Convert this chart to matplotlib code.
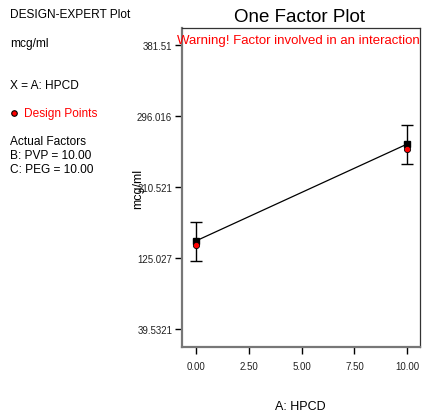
import matplotlib
matplotlib.use("Agg")
import matplotlib.pyplot as plt

plt.rcParams["font.family"] = ["Liberation Sans", "DejaVu Sans"]

# factor levels and response (mcg/ml)
hpcd = [0.0, 10.0]
predicted = [145.4, 262.1]
ci_low = [121.3, 238.0]
ci_high = [168.2, 284.9]
design_points = [140.0, 256.1]

y_ticks = [39.5321, 125.027, 210.521, 296.016, 381.51]
y_tick_labels = ["39.5321", "125.027", "210.521", "296.016", "381.51"]
x_ticks = [0.0, 2.5, 5.0, 7.5, 10.0]
x_tick_labels = ["0.00", "2.50", "5.00", "7.50", "10.00"]

fig = plt.figure(figsize=(4.22, 4.14), dpi=100)
ax = fig.add_axes([182 / 422, 66 / 414, 238 / 422, 319 / 414])

# prediction line with interval bars
ax.plot(hpcd, predicted, color="black", lw=0.9, zorder=2)
ax.errorbar(hpcd, predicted, yerr=[[p - l for p, l in zip(predicted, ci_low)],
                                   [h - p for p, h in zip(predicted, ci_high)]],
            fmt="none", ecolor="black", elinewidth=1.0, capsize=4.5, capthick=1.0,
            zorder=3)
ax.plot(hpcd, predicted, ls="none", marker="s", ms=5, color="black", zorder=4)
ax.plot(hpcd, design_points, ls="none", marker="o", ms=4.5, mfc="red",
        mec="black", mew=0.6, zorder=5)

ax.set_xlim(-0.65, 10.6)
ax.set_ylim(17.9, 401.6)
ax.set_xticks(x_ticks)
ax.set_xticklabels(x_tick_labels)
ax.set_yticks(y_ticks)
ax.set_yticklabels(y_tick_labels)
ax.tick_params(axis="both", direction="out", length=5, width=1.0, color="black",
               labelsize=7, colors="#222222", pad=2)
ax.tick_params(axis="x", pad=5)

for side in ["left", "bottom"]:
    ax.spines[side].set_color("#777777")
    ax.spines[side].set_linewidth(1.6)
for side in ["top", "right"]:
    ax.spines[side].set_color("#333333")
    ax.spines[side].set_linewidth(0.9)

ax.set_ylabel("mcg/ml", fontsize=9, labelpad=-5)
fig.text(300 / 422, 1 - 407 / 414, "A: HPCD", fontsize=9, ha="center", va="center")
fig.text(300 / 422, 1 - 17 / 414, "One Factor Plot", fontsize=13.5, ha="center",
         va="center")
fig.text(177 / 422, 1 - 41 / 414, "Warning! Factor involved in an interaction",
         color="red", fontsize=9.5, ha="left", va="center")

# side legend block
fs = 8.6
fig.text(10 / 422, 1 - 15 / 414, "DESIGN-EXPERT Plot", fontsize=fs, va="center")
fig.text(10 / 422, 1 - 44 / 414, "mcg/ml", fontsize=fs, va="center")
fig.text(10 / 422, 1 - 86 / 414, "X = A: HPCD", fontsize=fs, va="center")
fig.lines.append(plt.Line2D([14 / 422], [1 - 114 / 414], transform=fig.transFigure,
                            marker="o", ms=4, mfc="red", mec="black", mew=0.8))
fig.text(24 / 422, 1 - 114 / 414, "Design Points", fontsize=fs, color="red", va="center")
fig.text(10 / 422, 1 - 142 / 414, "Actual Factors", fontsize=fs, va="center")
fig.text(10 / 422, 1 - 156 / 414, "B: PVP = 10.00", fontsize=fs, va="center")
fig.text(10 / 422, 1 - 170 / 414, "C: PEG = 10.00", fontsize=fs, va="center")

fig.savefig("out.png", dpi=100)
